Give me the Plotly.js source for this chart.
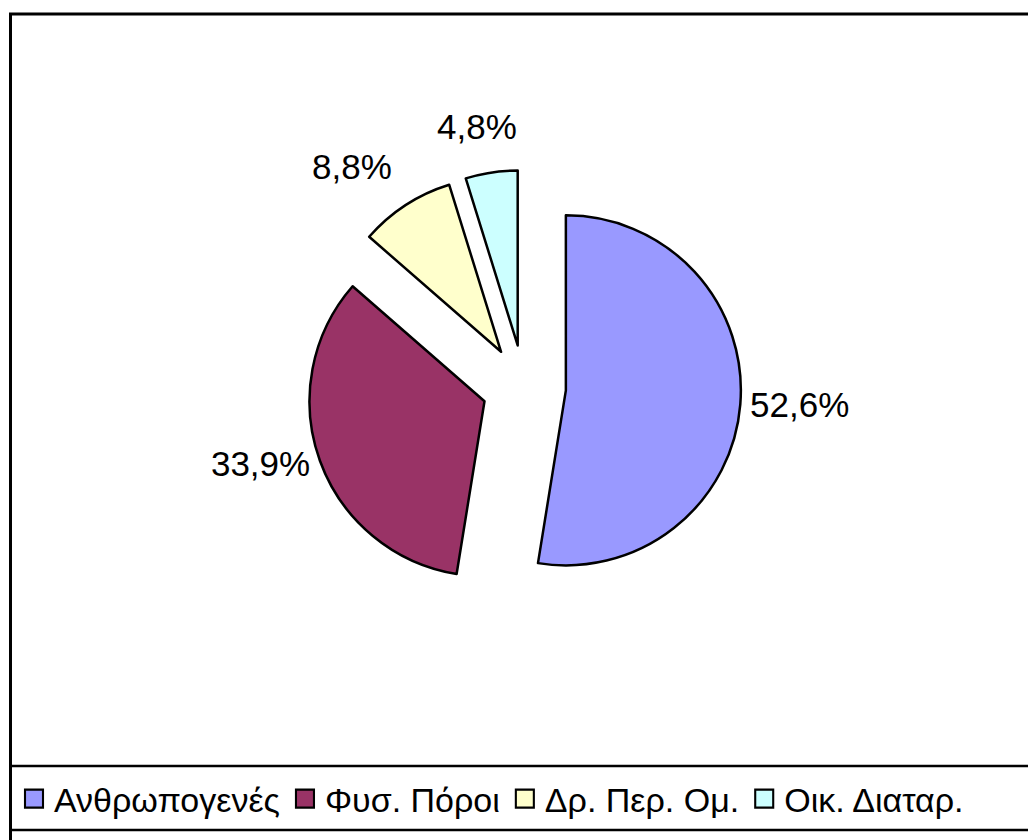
<!DOCTYPE html>
<html>
<head>
<meta charset="utf-8">
<script src="https://cdn.plot.ly/plotly-3.0.1.min.js"></script>
<style>html,body{margin:0;padding:0;background:#fff;}#chart{width:1028px;height:840px;}</style>
</head>
<body>
<div id="chart"></div>
<script>
const categories = ["Ανθρωπογενές", "Φυσ. Πόροι", "Δρ. Περ. Ομ.", "Οικ. Διαταρ."];
const shares = [52.6, 33.9, 8.8, 4.8];
const sliceColors = ["#9999FF", "#993366", "#FFFFCC", "#CCFFFF"];
const labelTexts = shares.map(v => v.toFixed(1).replace('.', ',') + '%');

const W = 1028, H = 840;
const px = x => x / W;
const py = y => 1 - y / H;

// pie geometry (pixels)
const dom = { x0: 307, x1: 741, y0: 170, y1: 604 };
const pullFrac = 0.24;
const cx = (dom.x0 + dom.x1) / 2, cy = (dom.y0 + dom.y1) / 2;
const R = Math.min(dom.x1 - dom.x0, dom.y1 - dom.y0) / 2 / (1 + pullFrac);

// small slices get their labels as annotations (as Excel places them)
const labelFont = { family: 'Liberation Sans, Arial, sans-serif', size: 35, color: '#000' };
const total = shares.reduce((a, b) => a + b, 0);
const annotations = [];
let acc = 0;
const textPos = [];
shares.forEach((v, i) => {
  const mid = (acc + v / 2) / total * 2 * Math.PI;
  acc += v;
  if (v < 10) {
    textPos.push('none');
    const s = Math.sin(mid), c = Math.cos(mid);
    const d = R * (1 + pullFrac) + 30;
    const x = cx + s * d + s * 68;
    const y = cy - c * d - c * 16;
    annotations.push({ xref: 'paper', yref: 'paper', x: px(x), y: py(y), xanchor: 'center', yanchor: 'middle',
      text: labelTexts[i], showarrow: false, font: labelFont });
  } else {
    textPos.push('outside');
  }
});

const trace = {
  type: 'pie',
  labels: categories,
  values: shares,
  text: labelTexts,
  textinfo: 'text',
  textposition: textPos,
  sort: false,
  direction: 'clockwise',
  rotation: 0,
  pull: shares.map(() => pullFrac),
  marker: { colors: sliceColors, line: { color: '#000', width: 2.5 } },
  outsidetextfont: labelFont,
  hoverinfo: 'label+percent',
  domain: { x: [px(dom.x0), px(dom.x1)], y: [py(dom.y1), py(dom.y0)] },
  automargin: false
};

const layout = {
  width: W, height: H,
  margin: { l: 0, r: 0, t: 0, b: 0 },
  paper_bgcolor: '#fff',
  showlegend: true,
  legend: {
    orientation: 'h',
    x: px(14), xanchor: 'left',
    y: py(799), yanchor: 'middle',
    font: { family: 'Liberation Sans, Arial, sans-serif', size: 34, color: '#000' },
    bgcolor: 'rgba(0,0,0,0)',
    itemwidth: 30,
    tracegroupgap: 0
  },
  annotations: annotations,
  shapes: [
    { type: 'rect', xref: 'paper', yref: 'paper', x0: px(10.5), x1: px(1040), y0: py(14), y1: py(860),
      line: { color: '#000', width: 3 }, fillcolor: 'rgba(0,0,0,0)' },
    { type: 'rect', xref: 'paper', yref: 'paper', x0: px(10.5), x1: px(1040), y0: py(766), y1: py(830),
      line: { color: '#000', width: 2.5 }, fillcolor: 'rgba(0,0,0,0)' }
  ]
};

Plotly.newPlot('chart', [trace], layout, { displayModeBar: false, staticPlot: true }).then(() => {
  document.querySelectorAll('.legend .legendpoints path').forEach(p => {
    const t = p.getAttribute('transform') || '';
    p.setAttribute('transform', (t + ' scale(1.5)').trim());
    p.style.strokeWidth = '1.4px';
  });
});
</script>
</body>
</html>
